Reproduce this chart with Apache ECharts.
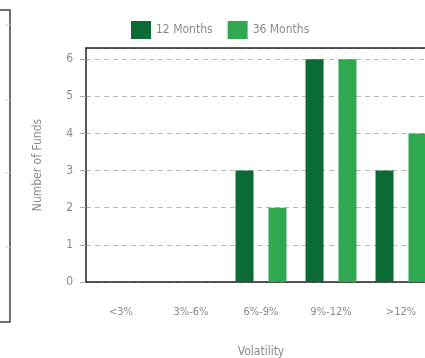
<!DOCTYPE html>
<html>
<head>
<meta charset="utf-8">
<script src="https://cdn.jsdelivr.net/npm/echarts@6/dist/echarts.min.js"></script>
<style>
  html, body { margin: 0; padding: 0; background: #fff; }
  #chart { width: 425px; height: 358px; }
</style>
</head>
<body>
<div id="chart"></div>
<script>
  // volatility buckets
  var categories = ['<3%', '3%-6%', '6%-9%', '9%-12%', '>12%'];
  var months12 = [0, 0, 3, 6, 3];
  var months36 = [0, 0, 2, 6, 4];
  var yTicks = [0, 1, 2, 3, 4, 5, 6];

  var font = "'Liberation Sans Narrow', 'DejaVu Sans Condensed', sans-serif";
  var grey = '#8a8a8a';

  var myChart = echarts.init(document.getElementById('chart'));

  var option = {
    backgroundColor: '#fff',
    animation: false,
    color: ['#0b6b35', '#2fa84f'],
    legend: {
      top: 16,
      left: 126,
      itemWidth: 20,
      itemHeight: 18,
      itemGap: 15,
      icon: 'rect',
      textStyle: { color: grey, fontSize: 12, fontFamily: font },
      data: ['12 Months', '36 Months']
    },
    grid: {
      left: 86,
      top: 48,
      width: 350,
      height: 234,
      outerBoundsMode: 'none'
    },
    xAxis: [
      {
        type: 'category',
        data: categories,
        name: 'Volatility',
        nameLocation: 'middle',
        nameGap: 64,
        nameTextStyle: { color: grey, fontSize: 12, fontFamily: font },
        axisLine: { lineStyle: { color: '#222', width: 1.5 } },
        axisTick: { alignWithLabel: true, length: 5, lineStyle: { color: '#444' } },
        axisLabel: { color: grey, fontSize: 11, fontFamily: font, margin: 25 }
      },
      {
        // top frame line of the plot
        type: 'category',
        data: categories,
        position: 'top',
        axisLine: { show: true, lineStyle: { color: '#222', width: 1.5 } },
        axisTick: { show: false },
        axisLabel: { show: false },
        splitLine: { show: false }
      }
    ],
    yAxis: {
      type: 'value',
      min: 0,
      max: 6.3,
      interval: 1,
      name: 'Number of Funds',
      nameLocation: 'middle',
      nameGap: 42,
      nameTextStyle: { color: grey, fontSize: 12, fontFamily: font },
      axisLine: { show: true, lineStyle: { color: '#222', width: 1.5 } },
      axisTick: { show: true, length: 6, lineStyle: { color: '#aaa' } },
      axisLabel: {
        color: grey, fontSize: 12, fontFamily: font, margin: 13,
        showMaxLabel: false,
        formatter: function (v) { return yTicks.indexOf(v) >= 0 ? String(v) : ''; }
      },
      splitLine: { show: true, lineStyle: { color: '#bbb', type: [5, 4] } }
    },
    series: [
      {
        name: '12 Months',
        type: 'bar',
        data: months12,
        barWidth: 18,
        barGap: '83%'
      },
      {
        name: '36 Months',
        type: 'bar',
        data: months36,
        barWidth: 18,
        barGap: '83%'
      }
    ],
    // edge of the neighbouring panel on the left
    graphic: [
      {
        type: 'polyline',
        shape: { points: [[0, 10], [10, 10], [10, 322], [0, 322]] },
        style: { stroke: '#444', lineWidth: 1.5, fill: null }
      },
      { type: 'line', shape: { x1: 5, y1: 25, x2: 10, y2: 25 }, style: { stroke: '#ccc' } },
      { type: 'line', shape: { x1: 5, y1: 100, x2: 10, y2: 100 }, style: { stroke: '#ccc' } },
      { type: 'line', shape: { x1: 5, y1: 173, x2: 10, y2: 173 }, style: { stroke: '#ccc' } },
      { type: 'line', shape: { x1: 5, y1: 247, x2: 10, y2: 247 }, style: { stroke: '#ccc' } }
    ]
  };

  myChart.setOption(option);
</script>
</body>
</html>
